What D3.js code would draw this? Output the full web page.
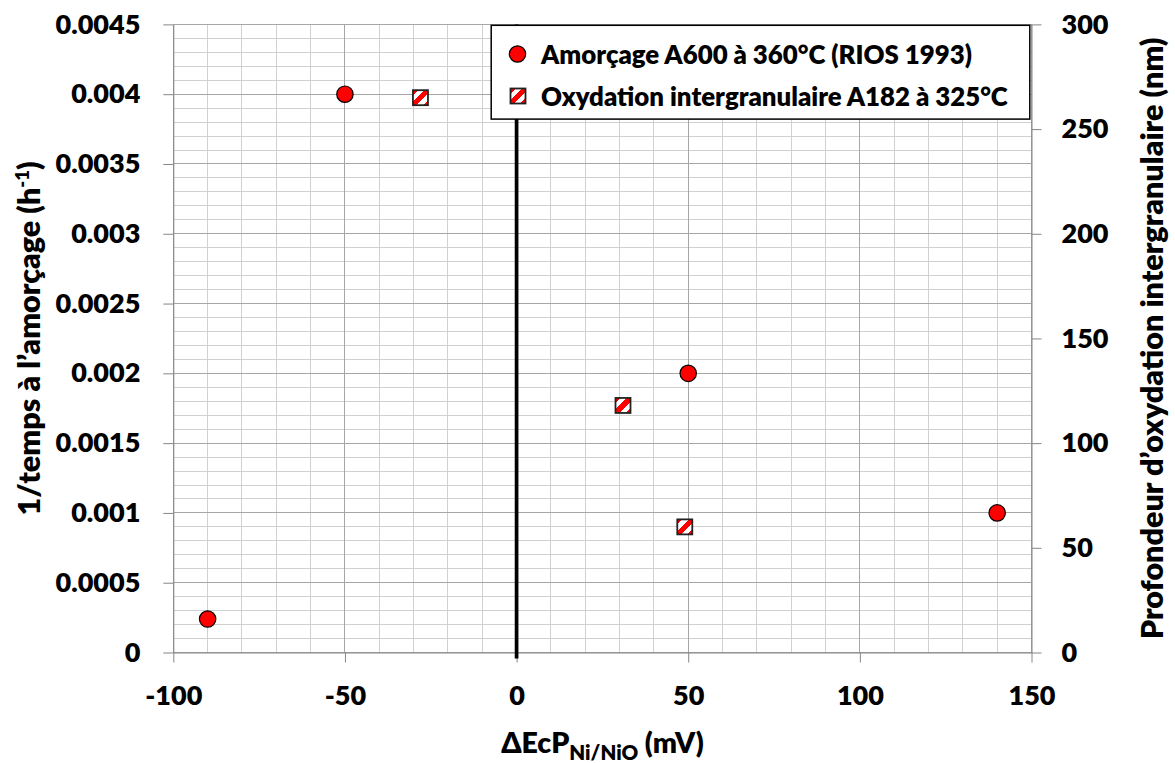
<!DOCTYPE html>
<html><head><meta charset="utf-8">
<script src="https://cdn.jsdelivr.net/npm/d3@7"></script>
<style>
body{margin:0;background:#fff}
svg{display:block}
text{font-family:Lato,"Open Sans",sans-serif;font-weight:800;fill:#000}
</style>
</head><body>
<svg id="c" width="1175" height="763"></svg>
<script>
// ---- data ----
const amorcageX = [-90, -50, 50, 140];
const amorcageY = [0.00024, 0.004, 0.002, 0.001];
const oxydX = [-28, 31, 49];
const oxydY = [265, 118, 60];
const xTicks = [-100, -50, 0, 50, 100, 150];
const xTickLabels = ["-100", "-50", "0", "50", "100", "150"];
const yTicks = [0, 0.0005, 0.001, 0.0015, 0.002, 0.0025, 0.003, 0.0035, 0.004, 0.0045];
const yTickLabels = ["0", "0.0005", "0.001", "0.0015", "0.002", "0.0025", "0.003", "0.0035", "0.004", "0.0045"];
const y2Ticks = [0, 50, 100, 150, 200, 250, 300];
const y2TickLabels = ["0", "50", "100", "150", "200", "250", "300"];
const seriesNames = ["Amorçage A600 à 360°C (RIOS 1993)", "Oxydation intergranulaire A182 à 325°C"];

// ---- layout ----
const L = 173.3, R = 1031.5, T = 24.4, B = 652.5;
const svg = d3.select("#c");
const x = d3.scaleLinear().domain([-100, 150]).range([L, R]);
const y = d3.scaleLinear().domain([0, 0.0045]).range([B, T]);
const y2 = d3.scaleLinear().domain([0, 300]).range([B, T]);

const defs = svg.append("defs");
const grad = defs.append("linearGradient").attr("id", "stripe")
  .attr("x1", 0).attr("y1", 0).attr("x2", 1).attr("y2", 1);
[[0,"#ff0000"],[0.17,"#ff0000"],[0.17,"#fff"],[0.38,"#fff"],[0.38,"#ff0000"],[0.62,"#ff0000"],[0.62,"#fff"],[0.83,"#fff"],[0.83,"#ff0000"],[1,"#ff0000"]]
  .forEach(([o,c]) => grad.append("stop").attr("offset", o).attr("stop-color", c));

// grid
const minorX = d3.range(-100, 151, 10);
const minorY = d3.range(0, 46).map(i => i * 0.0001);
const g = svg.append("g").attr("shape-rendering", "crispEdges");
g.selectAll(".mx").data(minorX).join("line")
  .attr("x1", d => x(d)).attr("x2", d => x(d)).attr("y1", T).attr("y2", B)
  .attr("stroke", "#d0d0d0").attr("stroke-width", 1);
g.selectAll(".my").data(minorY).join("line")
  .attr("x1", L).attr("x2", R).attr("y1", d => y(d)).attr("y2", d => y(d))
  .attr("stroke", "#d0d0d0").attr("stroke-width", 1);
g.selectAll(".Mx").data(xTicks).join("line")
  .attr("x1", d => x(d)).attr("x2", d => x(d)).attr("y1", T).attr("y2", B)
  .attr("stroke", "#a6a6a6").attr("stroke-width", 1);
g.selectAll(".My").data(yTicks).join("line")
  .attr("x1", L).attr("x2", R).attr("y1", d => y(d)).attr("y2", d => y(d))
  .attr("stroke", "#a6a6a6").attr("stroke-width", 1);

// axes
function styleAxis(sel) {
  sel.selectAll("path.domain").attr("stroke", "#868686");
  sel.selectAll(".tick line").attr("stroke", "#868686");
  sel.selectAll("text").style("font-size", "27px").attr("fill", "#000");
}
const xa = svg.append("g").attr("transform", `translate(0,${B})`)
  .call(d3.axisBottom(x).tickValues(xTicks).tickSize(10).tickSizeOuter(0)
    .tickFormat((d, i) => xTickLabels[i]));
styleAxis(xa);
xa.selectAll("text").attr("dy", null).attr("y", 52.5);

const ya = svg.append("g").attr("transform", `translate(${L},0)`)
  .call(d3.axisLeft(y).tickValues(yTicks).tickSize(10).tickPadding(23).tickSizeOuter(0)
    .tickFormat((d, i) => yTickLabels[i]));
styleAxis(ya);

const y2a = svg.append("g").attr("transform", `translate(${R},0)`)
  .call(d3.axisRight(y2).tickValues(y2Ticks).tickSize(10).tickPadding(20).tickSizeOuter(0)
    .tickFormat((d, i) => y2TickLabels[i]));
styleAxis(y2a);

// zero line
svg.append("line").attr("x1", x(0)).attr("x2", x(0)).attr("y1", T).attr("y2", B + 6)
  .attr("stroke", "#000").attr("stroke-width", 3.7);

// points
svg.append("g").selectAll("circle").data(amorcageX).join("circle")
  .attr("cx", d => x(d)).attr("cy", (d, i) => y(amorcageY[i])).attr("r", 8.2)
  .attr("fill", "#ff0000").attr("stroke", "#000").attr("stroke-width", 1.2);
const sq = 15;
svg.append("g").selectAll("rect").data(oxydX).join("rect")
  .attr("x", d => x(d) - sq / 2).attr("y", (d, i) => y2(oxydY[i]) - sq / 2)
  .attr("width", sq).attr("height", sq)
  .attr("fill", "url(#stripe)").attr("stroke", "#222").attr("stroke-width", 1.8);

// legend
const lg = svg.append("g");
lg.append("rect").attr("x", 491.2).attr("y", 25.3).attr("width", 538.6).attr("height", 93.8)
  .attr("fill", "#fff").attr("stroke", "#000").attr("stroke-width", 1.5);
lg.append("circle").attr("cx", 517.5).attr("cy", 54).attr("r", 8.2)
  .attr("fill", "#ff0000").attr("stroke", "#000").attr("stroke-width", 1.2);
lg.append("rect").attr("x", 518 - sq / 2).attr("y", 96 - sq / 2).attr("width", sq).attr("height", sq)
  .attr("fill", "url(#stripe)").attr("stroke", "#222").attr("stroke-width", 1.8);
lg.append("text").attr("x", 541).attr("y", 63.5).style("font-size", "25.8px").text(seriesNames[0]);
lg.append("text").attr("x", 541).attr("y", 105.5).style("font-size", "25.8px").text(seriesNames[1]);

// axis titles
const xt = svg.append("text").attr("x", (L + R) / 2).attr("y", 753)
  .attr("text-anchor", "middle").style("font-size", "28.5px");
xt.append("tspan").text("\u0394EcP");
xt.append("tspan").attr("dy", 7).style("font-size", "20.5px").text("Ni/NiO");
xt.append("tspan").attr("dy", -7).text(" (mV)");

const yt = svg.append("text").attr("transform", `translate(40,${(T + B) / 2}) rotate(-90)`)
  .attr("text-anchor", "middle").style("font-size", "30.5px");
yt.append("tspan").text("1/temps à l\u2019amorçage (h");
yt.append("tspan").attr("dy", -11).style("font-size", "18.5px").text("-1");
yt.append("tspan").attr("dy", 11).text(")");

svg.append("text").attr("transform", `translate(1163,${(T + B) / 2}) rotate(-90)`)
  .attr("text-anchor", "middle").style("font-size", "30.5px")
  .text("Profondeur d\u2019oxydation intergranulaire (nm)");
</script>
</body></html>
